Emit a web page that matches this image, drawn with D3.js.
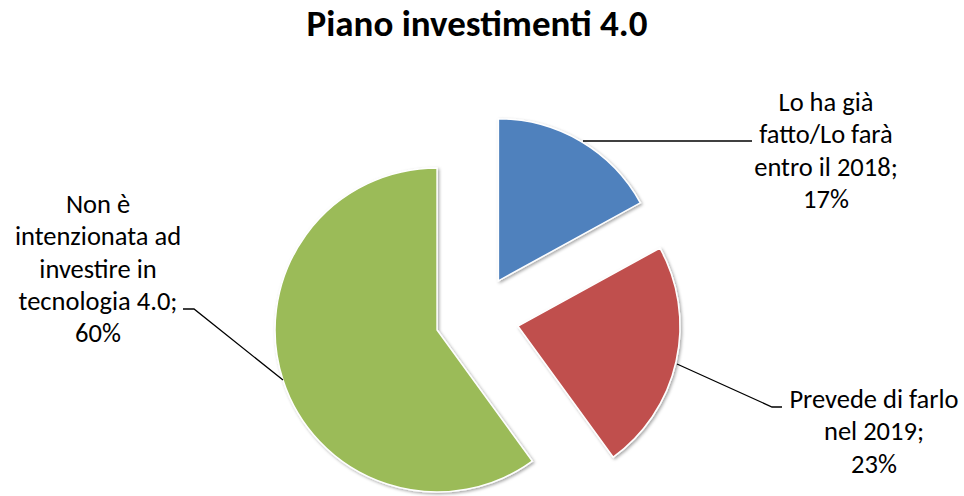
<!DOCTYPE html>
<html><head><meta charset="utf-8">
<script src="https://cdn.jsdelivr.net/npm/d3@7"></script>
<style>body{margin:0;background:#fff}svg{display:block}</style>
</head><body>
<svg id="c" width="964" height="496"></svg>
<script>
const title = "Piano investimenti 4.0";
const categories = ["Lo ha già fatto/Lo farà entro il 2018", "Prevede di farlo nel 2019", "Non è intenzionata ad investire in tecnologia 4.0"];
const values = [17, 23, 60];
const colors = ["#4F81BD", "#C0504D", "#9BBB59"];
const labelLines = [
  ["Lo ha già", "fatto/Lo farà", "entro il 2018;", "17%"],
  ["Prevede di farlo", "nel 2019;", "23%"],
  ["Non è", "intenzionata ad", "investire in", "tecnologia 4.0;", "60%"]
];

const FONT = "Carlito, Calibri, 'Open Sans', sans-serif";
const svg = d3.select("#c");
const cx = 477, cy = 317, R = 162, explode = 42;

svg.append("text").attr("x", 477).attr("y", 36).attr("text-anchor", "middle")
  .attr("font-family", FONT).attr("font-weight", "bold").attr("font-size", 37)
  .attr("fill", "#000").text(title);

const defs = svg.append("defs");
const f = defs.append("filter").attr("id", "sh").attr("x", "-20%").attr("y", "-20%").attr("width", "140%").attr("height", "140%");
f.append("feDropShadow").attr("dx", 1.5).attr("dy", 1.5).attr("stdDeviation", 1.5).attr("flood-color", "#000").attr("flood-opacity", 0.35);

const pie = d3.pie().sort(null).value(d => d)(values);
const arc = d3.arc().innerRadius(0).outerRadius(R);
const g = svg.append("g").attr("transform", `translate(${cx},${cy})`);
g.selectAll("path").data(pie).join("path")
  .attr("transform", d => { const a = (d.startAngle + d.endAngle) / 2; return `translate(${Math.sin(a) * explode},${-Math.cos(a) * explode})`; })
  .attr("d", arc).attr("fill", (d, i) => colors[i])
  .attr("stroke", "#fff").attr("stroke-width", 1.5).attr("filter", "url(#sh)");

const labelPos = [
  { x: 826, y: 111, line: [[583, 141], [752, 141]] },
  { x: 874, y: 408, line: [[677, 364], [772, 407], [782, 407]] },
  { x: 98, y: 213, line: [[283, 380], [194, 309], [183, 309]] }
];
const lh = 32.3;
labelPos.forEach((p, i) => {
  svg.append("path").attr("d", d3.line()(p.line)).attr("fill", "none").attr("stroke", "#000").attr("stroke-width", 1.3);
  const t = svg.append("text").attr("font-family", FONT).attr("font-size", 26.5).attr("fill", "#000").attr("text-anchor", "middle");
  labelLines[i].forEach((s, j) => t.append("tspan").attr("x", p.x).attr("y", p.y + j * lh).text(s));
});
</script>
</body></html>
